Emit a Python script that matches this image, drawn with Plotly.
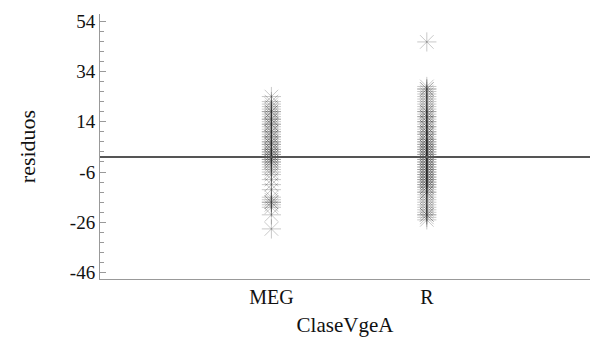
import plotly.graph_objects as go

categories = ["MEG", "R"]
y_tickvals = [54, 34, 14, -6, -26, -46]
y_ticktext = ["54", "34", "14", "-6", "-26", "-46"]
meg_resid = [24, 22, 21, 20, 19, 18, 18, 17, 16, 15, 15, 14, 13, 13, 12, 11, 10, 10, 9, 8, 8, 7,
             6, 6, 5, 5, 4, 3, 3, 2, 2, 1, 1, 0, 0, -1, -1, -2, -2, -3, -4, -5, -6, -7, -9, -11,
             -13, -16, -17, -18, -18, -19, -20, -23, -28.6]
r_resid = [45.7, 28, 27, 27, 26, 25, 24, 23, 22, 21, 20, 19, 18, 18, 17, 16, 16, 15, 14, 14, 13,
           12, 12, 11, 10, 10, 9, 9, 8, 7, 7, 6, 6, 5, 5, 4, 4, 3, 3, 2, 2, 1, 1, 0, 0, -1, -1,
           -2, -2, -3, -3, -4, -4, -5, -5, -6, -6, -7, -7, -8, -8, -9, -9, -10, -10, -11, -11,
           -12, -12, -13, -14, -14, -15, -16, -17, -18, -19, -20, -21, -22, -23, -23, -24, -25]
ref_value = 0

fig = go.Figure()
for i, vals in enumerate([meg_resid, r_resid]):
    fig.add_trace(go.Scatter(
        x=[i + 1] * len(vals), y=vals, mode="markers",
        marker=dict(symbol="asterisk-open", size=16, color="rgba(40,40,40,0.25)",
                    line=dict(width=1, color="rgba(40,40,40,0.25)")),
        showlegend=False, hoverinfo="y"))

fig.add_shape(type="line", xref="paper", x0=0, x1=1, yref="y", y0=ref_value, y1=ref_value,
              line=dict(color="#555555", width=2))

font = "Liberation Serif, Times New Roman, serif"
fig.update_layout(
    width=592, height=345,
    margin=dict(l=100, r=2, t=14, b=66),
    plot_bgcolor="white", paper_bgcolor="white",
    font=dict(family=font, size=19, color="#111"),
    xaxis=dict(range=[-0.103, 3.05], tickmode="array", tickvals=[1, 2], ticktext=categories,
               showgrid=False, zeroline=False, showline=True, linecolor="#999", linewidth=1,
               ticks="", tickfont=dict(size=20),
               title=dict(text="ClaseVgeA", font=dict(size=21), standoff=10)),
    yaxis=dict(range=[-48.5, 56.8], tickmode="array", tickvals=y_tickvals, ticktext=y_ticktext,
               showgrid=False, zeroline=False,
               showline=True, linecolor="#999", linewidth=1, ticks="inside", ticklen=6,
               tickcolor="#999", tickfont=dict(size=19),
               minor=dict(tick0=-46, dtick=4, ticks="inside", ticklen=4, tickcolor="#999"),
               title=dict(text="residuos", font=dict(size=22), standoff=28)),
)
fig.write_html("out.html", config={"displayModeBar": False},
               post_script="document.body.style.margin='0';")
